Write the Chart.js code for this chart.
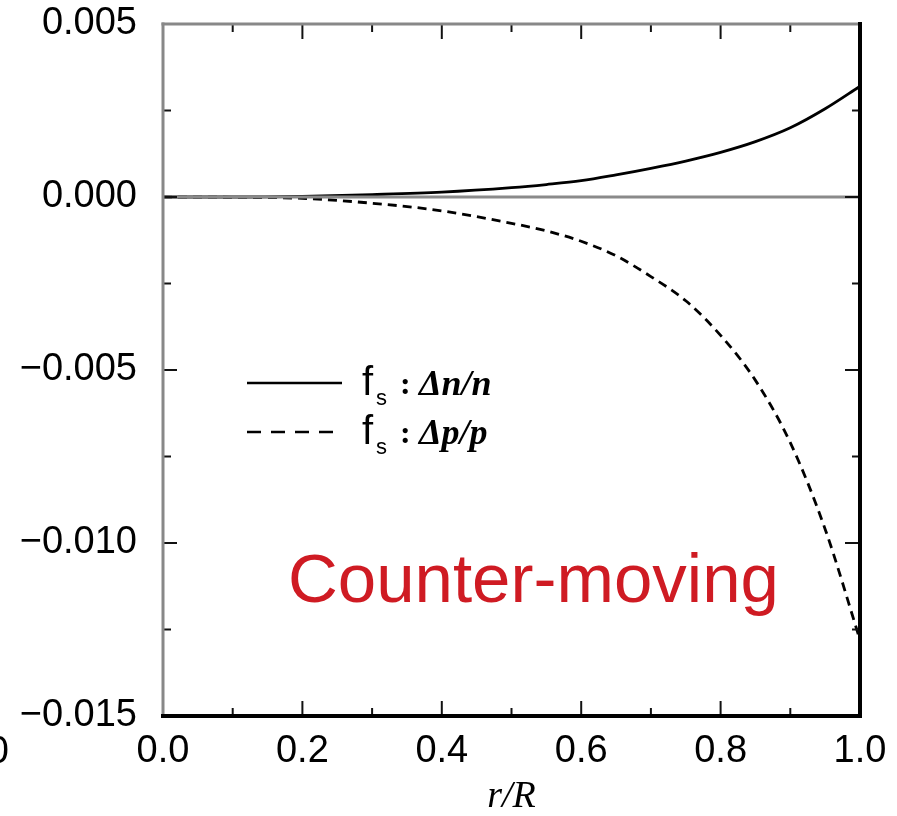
<!DOCTYPE html>
<html>
<head>
<meta charset="utf-8">
<script src="https://cdn.jsdelivr.net/npm/chart.js@4"></script>
<style>
  html, body { margin: 0; padding: 0; background: #fff; }
  #wrap { width: 897px; height: 816px; }
</style>
</head>
<body>
<div id="wrap"><canvas id="fsChart" width="897" height="816"></canvas></div>
<script>
// r/R positions
const rValues = [0, 0.1, 0.2, 0.3, 0.4, 0.5, 0.55, 0.6, 0.65, 0.7, 0.75, 0.8, 0.85, 0.9, 0.95, 1.0];
// f_s : Δn/n (solid)
const dnValues = [0, 0, 0.00002, 0.00007, 0.00014, 0.00027, 0.00036, 0.00047, 0.00064, 0.00083, 0.00104, 0.00129, 0.0016, 0.002, 0.00255, 0.0032];
// f_s : Δp/p (dashed)
const dpValues = [0, -0.00001, -0.00004, -0.00018, -0.0004, -0.00076, -0.00098, -0.00128, -0.0017, -0.0023, -0.0030, -0.0040, -0.0053, -0.0071, -0.0096, -0.0128];

const xTicks = [0, 0.2, 0.4, 0.6, 0.8, 1.0];
const xMinor = [0.1, 0.3, 0.5, 0.7, 0.9];
const yTicks = [0.005, 0, -0.005, -0.010, -0.015];
const yMinor = [0.0025, -0.0025, -0.0075, -0.0125];

const sans = '"Liberation Sans", Arial, Helvetica, sans-serif';
const serif = '"Liberation Serif", "Times New Roman", serif';

// frame, inward ticks, legend and the red note
const framePlugin = {
  id: 'frame',
  afterDatasetsDraw(chart) {
    const ctx = chart.ctx;
    const xs = chart.scales.x, ys = chart.scales.y;
    const a = chart.chartArea;
    ctx.save();

    const seg = (x1, y1, x2, y2) => { ctx.beginPath(); ctx.moveTo(x1, y1); ctx.lineTo(x2, y2); ctx.stroke(); };

    // zero line
    ctx.strokeStyle = '#8a8a8a';
    ctx.lineWidth = 3;
    seg(a.left, ys.getPixelForValue(0), a.right, ys.getPixelForValue(0));

    // ticks
    ctx.strokeStyle = '#111';
    ctx.lineWidth = 2;
    xTicks.forEach(v => {
      const px = xs.getPixelForValue(v);
      seg(px, a.bottom, px, a.bottom - 15);
      seg(px, a.top, px, a.top + 15);
    });
    xMinor.forEach(v => {
      const px = xs.getPixelForValue(v);
      seg(px, a.bottom, px, a.bottom - 8);
      seg(px, a.top, px, a.top + 8);
    });
    yTicks.forEach(v => {
      const py = ys.getPixelForValue(v);
      seg(a.left, py, a.left + 14, py);
      seg(a.right, py, a.right - 15, py);
    });
    yMinor.forEach(v => {
      const py = ys.getPixelForValue(v);
      seg(a.left, py, a.left + 8, py);
      seg(a.right, py, a.right - 8, py);
    });

    // frame: grey top/left, black bottom/right
    ctx.lineCap = 'square';
    ctx.strokeStyle = '#888';
    ctx.lineWidth = 3;
    seg(a.left, a.bottom, a.left, a.top);
    seg(a.left, a.top, a.right, a.top);
    ctx.strokeStyle = '#000';
    ctx.lineWidth = 4;
    seg(a.left, a.bottom, a.right, a.bottom);
    seg(a.right, a.bottom, a.right, a.top);
    ctx.lineCap = 'butt';

    // legend
    ctx.strokeStyle = '#000';
    ctx.lineWidth = 2.5;
    seg(247, 383, 342, 383);
    ctx.setLineDash([14, 10]);
    seg(247, 432, 342, 432);
    ctx.setLineDash([]);

    const legendRow = (y, label) => {
      ctx.fillStyle = '#000';
      ctx.textBaseline = 'alphabetic';
      ctx.textAlign = 'left';
      ctx.font = '40px ' + sans;
      ctx.fillText('f', 362, y);
      ctx.font = '22px ' + sans;
      ctx.fillText('s', 376, y + 10);
      ctx.font = 'bold 32px ' + serif;
      ctx.fillText(':', 400, y - 1);
      ctx.font = 'italic bold 36px ' + serif;
      ctx.fillText(label, 419, y);
    };
    legendRow(395, '\u0394n/n');
    legendRow(444, '\u0394p/p');

    // note
    ctx.fillStyle = 'rgb(207,27,35)';
    ctx.font = '69px ' + sans;
    ctx.fillText('Counter-moving', 288, 602);

    // cut-off label of the neighbouring panel
    ctx.fillStyle = '#000';
    ctx.font = '38px ' + sans;
    ctx.textAlign = 'right';
    ctx.fillText('1.0', 9, 763);

    ctx.restore();
  }
};

const ctx = document.getElementById('fsChart').getContext('2d');
new Chart(ctx, {
  type: 'line',
  data: {
    datasets: [
      {
        label: 'fs : Δn/n',
        data: rValues.map((r, i) => ({ x: r, y: dnValues[i] })),
        borderColor: '#000',
        borderWidth: 2.8,
        pointRadius: 0,
        cubicInterpolationMode: 'monotone',
        fill: false
      },
      {
        label: 'fs : Δp/p',
        data: rValues.map((r, i) => ({ x: r, y: dpValues[i] })),
        borderColor: '#000',
        borderWidth: 2.8,
        borderDash: [9, 6],
        pointRadius: 0,
        cubicInterpolationMode: 'monotone',
        fill: false
      }
    ]
  },
  options: {
    responsive: false,
    animation: false,
    layout: { autoPadding: false, padding: { left: 0, top: 24, right: 37, bottom: 0 } },
    plugins: {
      legend: { display: false },
      tooltip: { enabled: false }
    },
    scales: {
      x: {
        type: 'linear',
        min: 0,
        max: 1,
        afterFit: s => {
          s.height = 100;
          s.paddingLeft = 0;
          s.paddingRight = 0;
        },
        afterBuildTicks: s => { s.ticks = xTicks.map(v => ({ value: v })); },
        ticks: {
          color: '#000',
          font: { family: sans, size: 38 },
          padding: 13,
          maxRotation: 0,
          callback: v => v.toFixed(1)
        },
        grid: { display: false, drawTicks: false },
        border: { display: false },
        title: {
          display: true,
          text: 'r/R',
          color: '#000',
          font: { family: serif, size: 38, style: 'italic', lineHeight: 1 },
          padding: { top: 0, bottom: 0 }
        }
      },
      y: {
        type: 'linear',
        min: -0.015,
        max: 0.005,
        afterFit: s => {
          s.width = 163;
          s.paddingTop = 0;
          s.paddingBottom = 0;
        },
        afterBuildTicks: s => { s.ticks = yTicks.map(v => ({ value: v })); },
        ticks: {
          color: '#000',
          font: { family: sans, size: 38 },
          padding: 26,
          callback: v => (v < 0 ? '\u2212' : '') + Math.abs(v).toFixed(3)
        },
        grid: { display: false, drawTicks: false },
        border: { display: false }
      }
    }
  },
  plugins: [framePlugin]
});
</script>
</body>
</html>
